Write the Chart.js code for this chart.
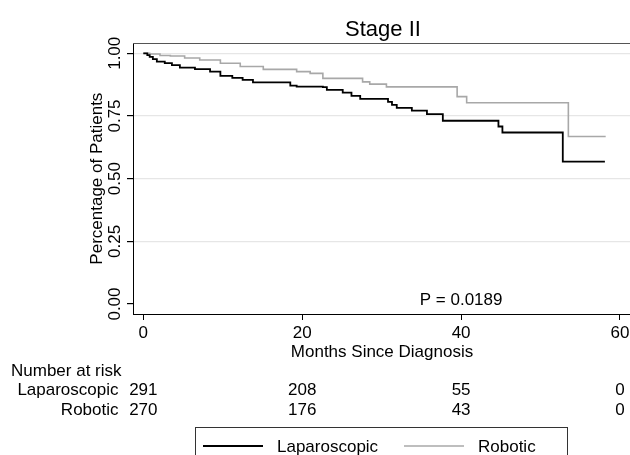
<!DOCTYPE html>
<html>
<head>
<meta charset="utf-8">
<script src="https://cdn.jsdelivr.net/npm/chart.js@4/dist/chart.umd.min.js"></script>
<style>
  html, body { margin: 0; padding: 0; background: #fff; }
  #box { width: 630px; height: 455px; }
</style>
</head>
<body>
<div id="box"><canvas id="kmChart" width="630" height="455"></canvas></div>
<script>
// Kaplan-Meier, valores
const mesesLap = [0, 0.5, 0.8, 1.2, 1.7, 2.7, 3.6, 4.6, 6.5, 8.4, 9.7, 11.2, 12.5, 13.8, 18.5, 19.3, 22.6, 23.1, 25.1, 26.2, 27.3, 30.8, 31.3, 31.9, 33.8, 35.7, 37.7, 44.7, 45.2, 52.8, 58.1];
const survLap = [1.0, 0.993, 0.986, 0.977, 0.967, 0.961, 0.953, 0.943, 0.937, 0.927, 0.910, 0.902, 0.894, 0.884, 0.871, 0.867, 0.865, 0.854, 0.843, 0.830, 0.818, 0.806, 0.794, 0.782, 0.771, 0.757, 0.731, 0.708, 0.684, 0.568, 0.568];

const mesesRob = [0, 0.8, 2.1, 3.4, 5.2, 7.1, 9.7, 12.2, 15.1, 19.3, 21.0, 22.6, 27.6, 28.5, 30.6, 39.5, 40.7, 53.5, 58.2];
const survRob = [1.0, 0.997, 0.991, 0.989, 0.981, 0.973, 0.960, 0.947, 0.936, 0.927, 0.920, 0.900, 0.886, 0.877, 0.866, 0.827, 0.803, 0.668, 0.668];

const xTicks = [0, 20, 40, 60];
const yTicks = [0, 0.25, 0.5, 0.75, 1];
const yTickLabels = ['0.00', '0.25', '0.50', '0.75', '1.00'];

// numero em risco
const riscoLap = [291, 208, 55, 0];
const riscoRob = [270, 176, 43, 0];

const FONTE = '"Liberation Sans", Arial, sans-serif';

function pontos(xs, ys) {
  return xs.map((x, i) => ({ x: x, y: ys[i] }));
}

// plugin que desenha os textos no estilo Stata
const textosStata = {
  id: 'textosStata',
  afterDraw(chart) {
    const ctx = chart.ctx;
    const area = chart.chartArea;
    const sx = chart.scales.x;
    const sy = chart.scales.y;
    ctx.save();

    // borda de cima
    ctx.strokeStyle = '#555';
    ctx.lineWidth = 1;
    ctx.beginPath();
    ctx.moveTo(area.left, area.top + 0.5);
    ctx.lineTo(area.right, area.top + 0.5);
    ctx.stroke();

    ctx.fillStyle = '#000';

    // titulo
    ctx.font = '22px ' + FONTE;
    ctx.textAlign = 'center';
    ctx.textBaseline = 'alphabetic';
    ctx.fillText('Stage II', 383, 36);

    // rotulos do eixo y (girados)
    ctx.font = '17px ' + FONTE;
    yTicks.forEach((v, i) => {
      ctx.save();
      ctx.translate(119.5, sy.getPixelForValue(v));
      ctx.rotate(-Math.PI / 2);
      ctx.textAlign = 'center';
      ctx.fillText(yTickLabels[i], 0, 0);
      ctx.restore();
    });

    // titulo do eixo y
    ctx.save();
    ctx.font = '17px ' + FONTE;
    ctx.translate(102, (sy.getPixelForValue(0) + sy.getPixelForValue(1)) / 2);
    ctx.rotate(-Math.PI / 2);
    ctx.textAlign = 'center';
    ctx.fillText('Percentage of Patients', 0, 0);
    ctx.restore();

    // rotulos do eixo x
    ctx.font = '17px ' + FONTE;
    ctx.textAlign = 'center';
    xTicks.forEach(v => {
      ctx.fillText(String(v), sx.getPixelForValue(v), 337.5);
    });
    ctx.fillText('Months Since Diagnosis', 382, 356.5);

    // P valor
    ctx.fillText('P = 0.0189', sx.getPixelForValue(40), 305);

    // tabela de numero em risco
    ctx.textAlign = 'left';
    ctx.fillText('Number at risk', 11, 375.5);
    ctx.textAlign = 'right';
    ctx.fillText('Laparoscopic', 118.5, 394.5);
    ctx.fillText('Robotic', 118.5, 415);
    ctx.textAlign = 'center';
    xTicks.forEach((v, i) => {
      const px = sx.getPixelForValue(v);
      ctx.fillText(String(riscoLap[i]), px, 394.5);
      ctx.fillText(String(riscoRob[i]), px, 415);
    });

    // legenda
    ctx.strokeStyle = '#333';
    ctx.lineWidth = 1;
    ctx.strokeRect(195.5, 427.5, 372, 40);
    chart.data.datasets.forEach((ds, i) => {
      const x0 = i === 0 ? 203 : 404;
      ctx.strokeStyle = ds.borderColor;
      ctx.lineWidth = i === 0 ? 1.8 : 1.5;
      ctx.beginPath();
      ctx.moveTo(x0, 446);
      ctx.lineTo(x0 + 60, 446);
      ctx.stroke();
      ctx.textAlign = 'left';
      ctx.fillStyle = '#000';
      ctx.fillText(ds.label, i === 0 ? 277 : 478, 452);
    });

    ctx.restore();
  }
};

const ctx = document.getElementById('kmChart').getContext('2d');
const kmChart = new Chart(ctx, {
  type: 'line',
  data: {
    datasets: [{
      label: 'Laparoscopic',
      data: pontos(mesesLap, survLap),
      borderColor: '#000000',
      borderWidth: 1.8,
      stepped: 'before',
      pointRadius: 0,
      fill: false,
      order: 0
    }, {
      label: 'Robotic',
      data: pontos(mesesRob, survRob),
      borderColor: '#a8a8a8',
      borderWidth: 1.6,
      stepped: 'before',
      pointRadius: 0,
      fill: false,
      order: 1
    }]
  },
  options: {
    responsive: false,
    animation: false,
    layout: { padding: { top: 43, left: 0, right: 0, bottom: 0 } },
    plugins: {
      legend: { display: false },
      title: { display: false },
      tooltip: { enabled: false }
    },
    scales: {
      x: {
        type: 'linear',
        min: -1.3,
        max: 61.26,
        afterBuildTicks: s => { s.ticks = xTicks.map(v => ({ value: v })); },
        afterFit: s => { s.height = 141; },
        ticks: { display: false },
        grid: { drawOnChartArea: false, drawTicks: true, tickLength: 6, tickColor: '#000' },
        border: { display: true, color: '#000', width: 1 }
      },
      y: {
        type: 'linear',
        min: -0.0398,
        max: 1.041,
        afterBuildTicks: s => { s.ticks = yTicks.map(v => ({ value: v })); },
        afterFit: s => { s.width = 133; },
        ticks: { display: false },
        grid: {
          color: c => (c.tick && c.tick.value === 0) ? 'rgba(0,0,0,0)' : '#e6e6e6',
          lineWidth: 1.2,
          drawTicks: true,
          tickLength: 6,
          tickColor: '#000'
        },
        border: { display: true, color: '#000', width: 1 }
      }
    }
  },
  plugins: [textosStata]
});
</script>
</body>
</html>
